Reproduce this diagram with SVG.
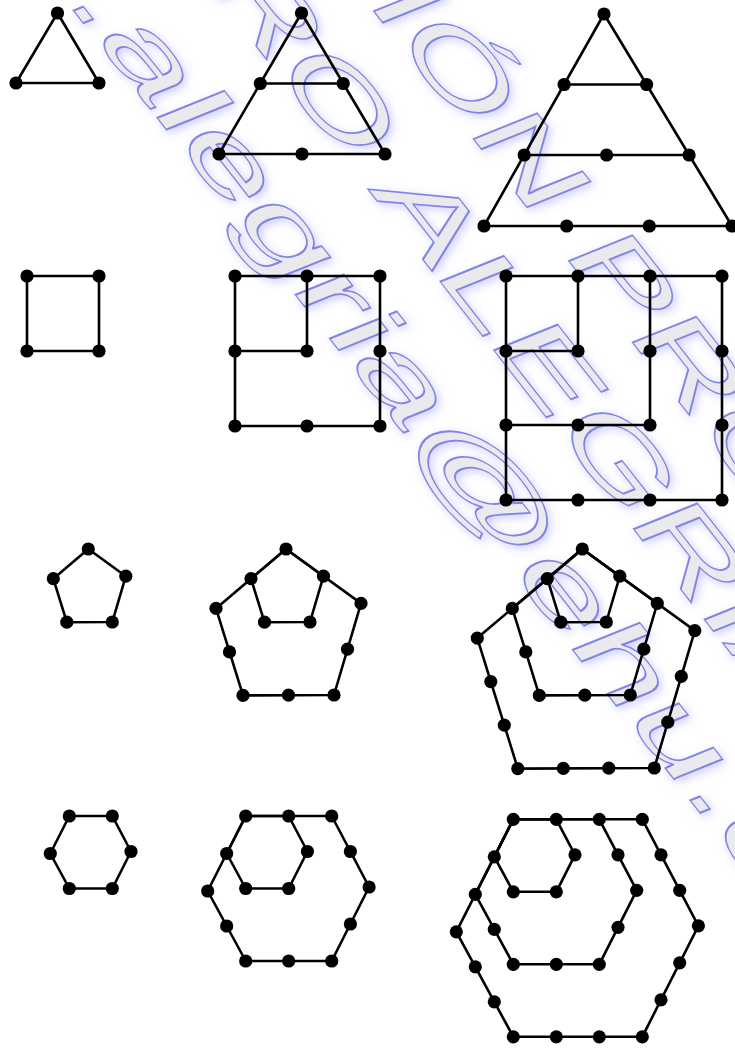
<svg xmlns="http://www.w3.org/2000/svg" xmlns:xlink="http://www.w3.org/1999/xlink" width="735" height="1048" viewBox="0 0 735 1048">
<style>
.wm{font-family:"Liberation Sans",Arial,sans-serif;font-size:100px;fill:#eaeaee;stroke:#8284e4;stroke-width:1.3}
.e{fill:none;stroke:#000;stroke-width:2.6;stroke-linejoin:round;stroke-linecap:round}
</style>
<defs>
<circle id="n" r="6.6" fill="#000"/>
<filter id="glow" x="-10%" y="-10%" width="120%" height="120%">
<feGaussianBlur in="SourceAlpha" stdDeviation="5" result="b"/>
<feOffset in="b" dx="3" dy="3" result="o"/>
<feFlood flood-color="#b2b4ff" flood-opacity="0.6"/>
<feComposite in2="o" operator="in"/>
<feMerge><feMergeNode/><feMergeNode in="SourceGraphic"/></feMerge>
</filter>
</defs>
<rect width="735" height="1048" fill="#fff"/>
<g id="watermark" filter="url(#glow)">
<text class="wm" transform="matrix(0.967 1.237 -0.927 0.375 2.4 -278.3)">PEDRO ALEGRÍA</text>
<text class="wm" transform="matrix(0.954 1.221 -0.927 0.375 -249.8 -786.8)">REPRODUCCIÓN PROHIBIDA</text>
<text class="wm" transform="matrix(1.034 1.324 -0.927 0.375 -200.4 -340)">pedro.alegria@ehu.es</text>
</g>
<g id="connectors">
<polygon class="e" points="57.5,13 16,83 99,83"/>
<polygon class="e" points="301.5,13 219,154 385,154"/>
<path class="e" d="M260.3,83.5H343.2"/>
<polygon class="e" points="604,14 484,226 732,226"/>
<path class="e" d="M564.1,84.5H646.6M524.2,155H689.1"/>
<rect class="e" x="27" y="276" width="72" height="75"/>
<rect class="e" x="235" y="276" width="145" height="150"/>
<path class="e" d="M307,276V351H235"/>
<rect class="e" x="506" y="276" width="216" height="224"/>
<path class="e" d="M578,276V351H506M650,276V425H506"/>
<polygon class="e" points="88.3,549 53.3,578.7 66.8,622.2 112.3,622 125.8,576.2"/>
<polygon class="e" points="286,549 251,578.7 264.5,622.2 310,622 323.5,576.2"/>
<polygon class="e" points="286,549 216,608.4 243,695.4 334,695 361,603.4"/>
<polygon class="e" points="582.3,549 547.3,578.7 560.8,622.2 606.3,622 619.8,576.2"/>
<polygon class="e" points="582.3,549 512.3,608.4 539.3,695.4 630.3,695 657.3,603.4"/>
<polygon class="e" points="582.3,549 477.3,638.1 517.8,768.6 654.3,768 694.8,630.6"/>
<polygon class="e" points="69.3,816 112.3,816 131,851.5 112.3,888.5 69.3,888.5 50.3,853.5"/>
<polygon class="e" points="245.7,816 288.7,816 307.4,851.5 288.7,888.5 245.7,888.5 226.7,853.5"/>
<polygon class="e" points="245.7,816 331.7,816 369.1,887 331.7,961 245.7,961 207.7,891"/>
<polygon class="e" points="513.3,819.3 556.3,819.3 575,854.8 556.3,891.8 513.3,891.8 494.3,856.8"/>
<polygon class="e" points="513.3,819.3 599.3,819.3 636.7,890.3 599.3,964.3 513.3,964.3 475.3,894.3"/>
<polygon class="e" points="513.3,819.3 642.3,819.3 698.4,925.8 642.3,1036.8 513.3,1036.8 456.3,931.8"/>
</g>
<g id="triangle-1">
<use href="#n" x="57.5" y="13"/><use href="#n" x="16" y="83"/><use href="#n" x="99" y="83"/>
</g>
<g id="triangle-2">
<use href="#n" x="301.5" y="13"/><use href="#n" x="260.3" y="83.5"/><use href="#n" x="343.2" y="83.5"/>
<use href="#n" x="219" y="154"/><use href="#n" x="302" y="154"/><use href="#n" x="385" y="154"/>
</g>
<g id="triangle-3">
<use href="#n" x="604" y="14"/><use href="#n" x="564.1" y="84.5"/><use href="#n" x="646.6" y="84.5"/>
<use href="#n" x="524.2" y="155"/><use href="#n" x="606.6" y="155"/><use href="#n" x="689.1" y="155"/>
<use href="#n" x="484" y="226"/><use href="#n" x="566.7" y="226"/><use href="#n" x="649.3" y="226"/><use href="#n" x="732" y="226"/>
</g>
<g id="square-1">
<use href="#n" x="27" y="276"/><use href="#n" x="99" y="276"/><use href="#n" x="27" y="351"/><use href="#n" x="99" y="351"/>
</g>
<g id="square-2">
<use href="#n" x="235" y="276"/><use href="#n" x="307" y="276"/><use href="#n" x="380" y="276"/>
<use href="#n" x="235" y="351"/><use href="#n" x="307" y="351"/><use href="#n" x="380" y="351"/>
<use href="#n" x="235" y="426"/><use href="#n" x="307" y="426"/><use href="#n" x="380" y="426"/>
</g>
<g id="square-3">
<use href="#n" x="506" y="276"/><use href="#n" x="578" y="276"/><use href="#n" x="650" y="276"/><use href="#n" x="722" y="276"/>
<use href="#n" x="506" y="351"/><use href="#n" x="578" y="351"/><use href="#n" x="650" y="351"/><use href="#n" x="722" y="351"/>
<use href="#n" x="506" y="425"/><use href="#n" x="578" y="425"/><use href="#n" x="650" y="425"/><use href="#n" x="722" y="425"/>
<use href="#n" x="506" y="500"/><use href="#n" x="578" y="500"/><use href="#n" x="650" y="500"/><use href="#n" x="722" y="500"/>
</g>
<g id="pentagon-1">
<use href="#n" x="88.3" y="549"/><use href="#n" x="53.3" y="578.7"/><use href="#n" x="66.8" y="622.2"/><use href="#n" x="112.3" y="622"/><use href="#n" x="125.8" y="576.2"/>
</g>
<g id="pentagon-2">
<use href="#n" x="286" y="549"/><use href="#n" x="251" y="578.7"/><use href="#n" x="264.5" y="622.2"/><use href="#n" x="310" y="622"/><use href="#n" x="323.5" y="576.2"/>
<use href="#n" x="216" y="608.4"/><use href="#n" x="229.5" y="651.9"/><use href="#n" x="243" y="695.4"/><use href="#n" x="288.5" y="695.2"/><use href="#n" x="334" y="695"/><use href="#n" x="347.5" y="649.2"/><use href="#n" x="361" y="603.4"/>
</g>
<g id="pentagon-3">
<use href="#n" x="582.3" y="549"/><use href="#n" x="547.3" y="578.7"/><use href="#n" x="560.8" y="622.2"/><use href="#n" x="606.3" y="622"/><use href="#n" x="619.8" y="576.2"/>
<use href="#n" x="512.3" y="608.4"/><use href="#n" x="525.8" y="651.9"/><use href="#n" x="539.3" y="695.4"/><use href="#n" x="584.8" y="695.2"/><use href="#n" x="630.3" y="695"/><use href="#n" x="643.8" y="649.2"/><use href="#n" x="657.3" y="603.4"/>
<use href="#n" x="477.3" y="638.1"/><use href="#n" x="490.8" y="681.6"/><use href="#n" x="504.3" y="725.1"/><use href="#n" x="517.8" y="768.6"/><use href="#n" x="563.3" y="768.4"/><use href="#n" x="608.8" y="768.2"/><use href="#n" x="654.3" y="768"/><use href="#n" x="667.8" y="722.2"/><use href="#n" x="681.3" y="676.4"/><use href="#n" x="694.8" y="630.6"/>
</g>
<g id="hexagon-1">
<use href="#n" x="69.3" y="816"/><use href="#n" x="112.3" y="816"/><use href="#n" x="131" y="851.5"/><use href="#n" x="112.3" y="888.5"/><use href="#n" x="69.3" y="888.5"/><use href="#n" x="50.3" y="853.5"/>
</g>
<g id="hexagon-2">
<use href="#n" x="245.7" y="816"/><use href="#n" x="288.7" y="816"/><use href="#n" x="307.4" y="851.5"/><use href="#n" x="288.7" y="888.5"/><use href="#n" x="245.7" y="888.5"/><use href="#n" x="226.7" y="853.5"/>
<use href="#n" x="331.7" y="816"/><use href="#n" x="350.4" y="851.5"/><use href="#n" x="369.1" y="887"/><use href="#n" x="350.4" y="924"/><use href="#n" x="331.7" y="961"/><use href="#n" x="288.7" y="961"/><use href="#n" x="245.7" y="961"/><use href="#n" x="226.7" y="926"/><use href="#n" x="207.7" y="891"/>
</g>
<g id="hexagon-3">
<use href="#n" x="513.3" y="819.3"/><use href="#n" x="556.3" y="819.3"/><use href="#n" x="575" y="854.8"/><use href="#n" x="556.3" y="891.8"/><use href="#n" x="513.3" y="891.8"/><use href="#n" x="494.3" y="856.8"/>
<use href="#n" x="599.3" y="819.3"/><use href="#n" x="618" y="854.8"/><use href="#n" x="636.7" y="890.3"/><use href="#n" x="618" y="927.3"/><use href="#n" x="599.3" y="964.3"/><use href="#n" x="556.3" y="964.3"/><use href="#n" x="513.3" y="964.3"/><use href="#n" x="494.3" y="929.3"/><use href="#n" x="475.3" y="894.3"/>
<use href="#n" x="642.3" y="819.3"/><use href="#n" x="661" y="854.8"/><use href="#n" x="679.7" y="890.3"/><use href="#n" x="698.4" y="925.8"/><use href="#n" x="679.7" y="962.8"/><use href="#n" x="661" y="999.8"/><use href="#n" x="642.3" y="1036.8"/><use href="#n" x="599.3" y="1036.8"/><use href="#n" x="556.3" y="1036.8"/><use href="#n" x="513.3" y="1036.8"/><use href="#n" x="494.3" y="1001.8"/><use href="#n" x="475.3" y="966.8"/><use href="#n" x="456.3" y="931.8"/>
</g>
</svg>
